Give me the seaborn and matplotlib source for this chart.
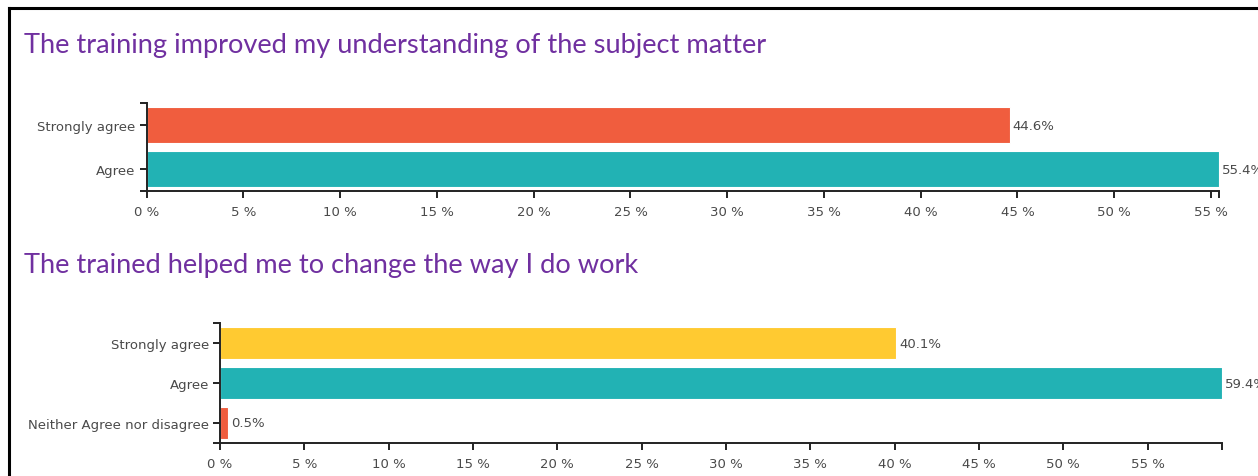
import matplotlib
matplotlib.use("Agg")
import matplotlib.pyplot as plt
from matplotlib.lines import Line2D
import seaborn as sns

# Survey results (percent of respondents)
title_1 = "The training improved my understanding of the subject matter"
categories_1 = ["Strongly agree", "Agree"]
values_1 = [44.6, 55.4]
colors_1 = ["#F05D3E", "#22B2B4"]

title_2 = "The trained helped me to change the way I do work"
categories_2 = ["Strongly agree", "Agree", "Neither Agree nor disagree"]
values_2 = [40.1, 59.4, 0.5]
colors_2 = ["#FFCA31", "#22B2B4", "#F05D3E"]

tick_values = [0, 5, 10, 15, 20, 25, 30, 35, 40, 45, 50, 55]

sns.set_theme(style="white")
plt.rcParams["font.family"] = ["DejaVu Sans"]

W, H = 1258, 477
fig = plt.figure(figsize=(W / 100, H / 100), dpi=100)
fig.patch.set_facecolor("white")


def axes_px(left, top, right, bottom):
    return fig.add_axes([left / W, 1 - bottom / H, (right - left) / W, (bottom - top) / H])


def draw_panel(ax, cats, vals, colors):
    sns.barplot(x=vals, y=cats, hue=cats, palette=colors, orient="h",
                width=0.82, legend=False, ax=ax, saturation=1,
                edgecolor="#ffffff", linewidth=0.8)
    n = len(cats)
    ax.set_xlim(0, max(vals))
    ax.set_ylim(n - 0.5, -0.5)
    ax.set_xticks(tick_values)
    ax.set_xticklabels([f"{t} %" for t in tick_values])
    # outer ticks at the ends of each axis line
    ax.set_xticks([max(vals)], minor=True)
    ax.set_yticks([-0.5, n - 0.5], minor=True)
    ax.set_xlabel("")
    ax.set_ylabel("")
    for side in ("top", "right"):
        ax.spines[side].set_visible(False)
    for side in ("left", "bottom"):
        ax.spines[side].set_color("#222222")
        ax.spines[side].set_linewidth(1.4)
    ax.tick_params(axis="both", which="both", direction="out", length=5,
                   width=1.4, color="#222222", labelsize=9.5,
                   labelcolor="#4a4a4a", bottom=True, left=True)
    ax.tick_params(axis="x", which="major", pad=5)
    ax.tick_params(axis="y", which="major", pad=3)
    ax.grid(False)
    ax.set_facecolor("none")
    for cont in ax.containers:
        ax.bar_label(cont, fmt="%.1f%%", padding=2, fontsize=9.5,
                     color="#4a4a4a", clip_on=False)


ax1 = axes_px(146.7, 104, 1218.7, 192)
draw_panel(ax1, categories_1, values_1, colors_1)

ax2 = axes_px(220, 324, 1221.7, 444)
draw_panel(ax2, categories_2, values_2, colors_2)

# section headings
title_color = "#7030A0"
fig.text(24 / W, 1 - 45 / H, title_1, color=title_color, fontsize=19.6,
         family=["Lato", "DejaVu Sans"], va="center", ha="left")
fig.text(24 / W, 1 - 266 / H, title_2, color=title_color, fontsize=19.6,
         family=["Lato", "DejaVu Sans"], va="center", ha="left")

# frame around the page region
fig.add_artist(Line2D([9 / W, 9 / W], [1 - 8.5 / H, 0], transform=fig.transFigure,
                      color="black", linewidth=2.2, solid_capstyle="projecting"))
fig.add_artist(Line2D([9 / W, 1], [1 - 8.5 / H, 1 - 8.5 / H], transform=fig.transFigure,
                      color="black", linewidth=2.2, solid_capstyle="projecting"))

fig.savefig("out.png", dpi=100, facecolor="white")
